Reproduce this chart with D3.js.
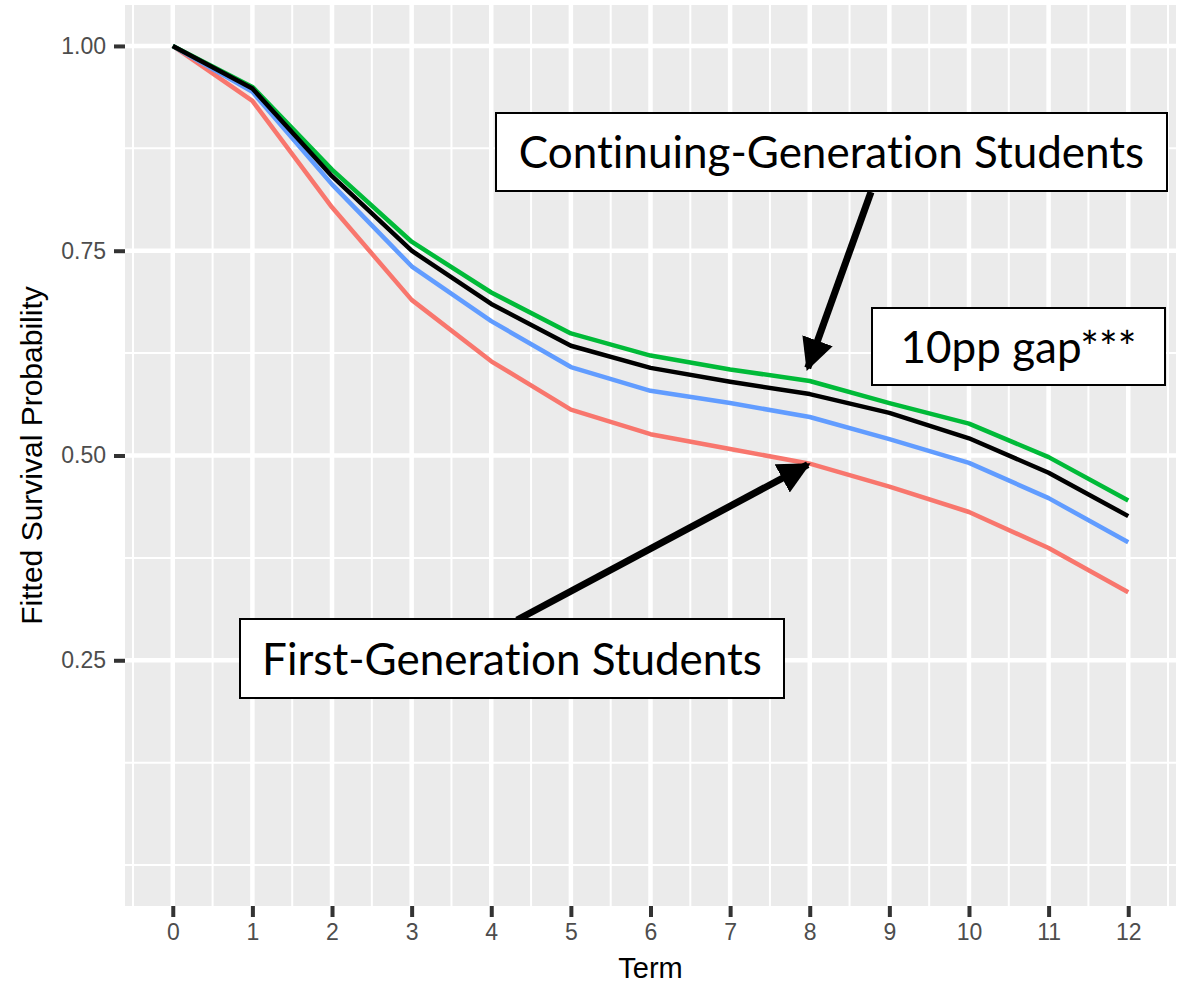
<!DOCTYPE html>
<html>
<head>
<meta charset="utf-8">
<script src="https://cdn.jsdelivr.net/npm/d3@7"></script>
<style>
  html, body { margin: 0; padding: 0; background: #ffffff; }
  svg { display: block; }
  text { font-variant-ligatures: none; font-feature-settings: "liga" 0, "clig" 0; }
</style>
</head>
<body>
<svg id="chart" width="1188" height="985"></svg>
<script>
// ---------------- data ----------------
const terms = [0, 1, 2, 3, 4, 5, 6, 7, 8, 9, 10, 11, 12];
const firstGen   = [1.000, 0.933, 0.803, 0.690, 0.615, 0.556, 0.526, 0.508, 0.490, 0.462, 0.431, 0.387, 0.333];
const middle     = [1.000, 0.944, 0.831, 0.731, 0.664, 0.608, 0.579, 0.564, 0.547, 0.520, 0.491, 0.448, 0.394];
const contGen    = [1.000, 0.950, 0.849, 0.761, 0.699, 0.649, 0.622, 0.605, 0.591, 0.564, 0.539, 0.498, 0.445];
const overall    = [1.000, 0.948, 0.841, 0.750, 0.685, 0.634, 0.607, 0.590, 0.575, 0.552, 0.521, 0.479, 0.426];
const seriesNames  = ["First-Generation", "Middle", "Continuing-Generation", "Overall"];
const seriesValues = [firstGen, middle, contGen, overall];
const seriesColors = ["#F8766D", "#619CFF", "#00BA38", "#000000"];
const yTickValues = [0.25, 0.50, 0.75, 1.00];
const yTickLabels = ["0.25", "0.50", "0.75", "1.00"];
const yMinorValues = [0, 0.125, 0.375, 0.625, 0.875];
const xMinorValues = [-0.5, 0.5, 1.5, 2.5, 3.5, 4.5, 5.5, 6.5, 7.5, 8.5, 9.5, 10.5, 11.5, 12.5];
const xTitle = "Term";
const yTitle = "Fitted Survival Probability";
const annoTexts = ["Continuing-Generation Students", "10pp gap***", "First-Generation Students"];

// ---------------- layout ----------------
const svg = d3.select("#chart");
const panel = {left: 125, right: 1176, top: 5, bottom: 906};
const x = d3.scaleLinear().domain([-0.6, 12.6]).range([panel.left, panel.right]);
const y = d3.scaleLinear().domain([-0.05, 1.05]).range([panel.bottom, panel.top]);

// panel background
svg.append("rect")
  .attr("x", panel.left).attr("y", panel.top)
  .attr("width", panel.right - panel.left).attr("height", panel.bottom - panel.top)
  .attr("fill", "#EBEBEB");

const grid = svg.append("g");
// minor grid
grid.selectAll(".ymin").data(yMinorValues).enter().append("line")
  .attr("x1", panel.left).attr("x2", panel.right)
  .attr("y1", d => y(d)).attr("y2", d => y(d))
  .attr("stroke", "#ffffff").attr("stroke-width", 2);
grid.selectAll(".xmin").data(xMinorValues).enter().append("line")
  .attr("y1", panel.top).attr("y2", panel.bottom)
  .attr("x1", d => x(d)).attr("x2", d => x(d))
  .attr("stroke", "#ffffff").attr("stroke-width", 2);
// major grid
grid.selectAll(".ymaj").data(yTickValues).enter().append("line")
  .attr("x1", panel.left).attr("x2", panel.right)
  .attr("y1", d => y(d)).attr("y2", d => y(d))
  .attr("stroke", "#ffffff").attr("stroke-width", 4.5);
grid.selectAll(".xmaj").data(terms).enter().append("line")
  .attr("y1", panel.top).attr("y2", panel.bottom)
  .attr("x1", d => x(d)).attr("x2", d => x(d))
  .attr("stroke", "#ffffff").attr("stroke-width", 4.5);

// axes
const xAxis = d3.axisBottom(x).tickValues(terms).tickSize(11).tickPadding(7).tickFormat(d3.format("d"));
const yAxis = d3.axisLeft(y).tickValues(yTickValues).tickSize(11).tickPadding(8)
  .tickFormat((d, i) => yTickLabels[i]);

const gx = svg.append("g").attr("transform", `translate(0,${panel.bottom})`).call(xAxis);
const gy = svg.append("g").attr("transform", `translate(${panel.left},0)`).call(yAxis);
[gx, gy].forEach(g => {
  g.select(".domain").remove();
  g.selectAll(".tick line").attr("stroke", "#333333").attr("stroke-width", 4);
  g.selectAll(".tick text")
    .attr("fill", "#4D4D4D")
    .style("font-family", "'Liberation Sans', Arial, sans-serif")
    .style("font-size", "23px");
});

// axis titles
svg.append("text")
  .attr("x", (panel.left + panel.right) / 2).attr("y", 978)
  .attr("text-anchor", "middle")
  .style("font-family", "'Liberation Sans', Arial, sans-serif")
  .style("font-size", "29px").attr("fill", "#000")
  .text(xTitle);
svg.append("text")
  .attr("transform", `translate(42,${(panel.top + panel.bottom) / 2}) rotate(-90)`)
  .attr("text-anchor", "middle")
  .style("font-family", "'Liberation Sans', Arial, sans-serif")
  .style("font-size", "30px").attr("fill", "#000")
  .text(yTitle);

// lines
const line = d3.line().x((d, i) => x(terms[i])).y(d => y(d));
svg.append("g").selectAll("path").data(seriesValues).enter().append("path")
  .attr("d", d => line(d))
  .attr("fill", "none")
  .attr("stroke", (d, i) => seriesColors[i])
  .attr("stroke-width", 4.5)
  .attr("stroke-linejoin", "round")
  .attr("stroke-linecap", "butt");

// ---------------- annotations ----------------
const defs = svg.append("defs");
defs.append("marker")
  .attr("id", "arrowhead")
  .attr("viewBox", "0 0 10 10")
  .attr("refX", 9).attr("refY", 5)
  .attr("markerWidth", 4.6).attr("markerHeight", 4.6)
  .attr("markerUnits", "strokeWidth")
  .attr("orient", "auto")
  .append("path").attr("d", "M0,0 L10,5 L0,10 Z").attr("fill", "#000");

function arrow(x1, y1, x2, y2) {
  svg.append("line")
    .attr("x1", x1).attr("y1", y1).attr("x2", x2).attr("y2", y2)
    .attr("stroke", "#000").attr("stroke-width", 7)
    .attr("marker-end", "url(#arrowhead)");
}
// arrow to continuing-gen curve at term 8
arrow(871, 192, x(8) - 2, y(contGen[8]) - 13);
// arrow to first-gen curve at term 8
arrow(517, 620, x(8) - 2, y(firstGen[8]) + 1);

function box(x0, y0, x1, y1, txt, baseline) {
  svg.append("rect")
    .attr("x", x0).attr("y", y0).attr("width", x1 - x0).attr("height", y1 - y0)
    .attr("fill", "#fff").attr("stroke", "#000").attr("stroke-width", 2);
  svg.append("text")
    .attr("x", (x0 + x1) / 2).attr("y", baseline)
    .attr("text-anchor", "middle")
    .style("font-family", "Lato, 'Open Sans', sans-serif")
    .style("font-size", "44px").attr("fill", "#000")
    .text(txt);
}
box(496, 113, 1167, 191, annoTexts[0], 168);
box(872, 308, 1165, 385, annoTexts[1], 363);
box(240, 619, 784, 698, annoTexts[2], 675);
</script>
</body>
</html>
